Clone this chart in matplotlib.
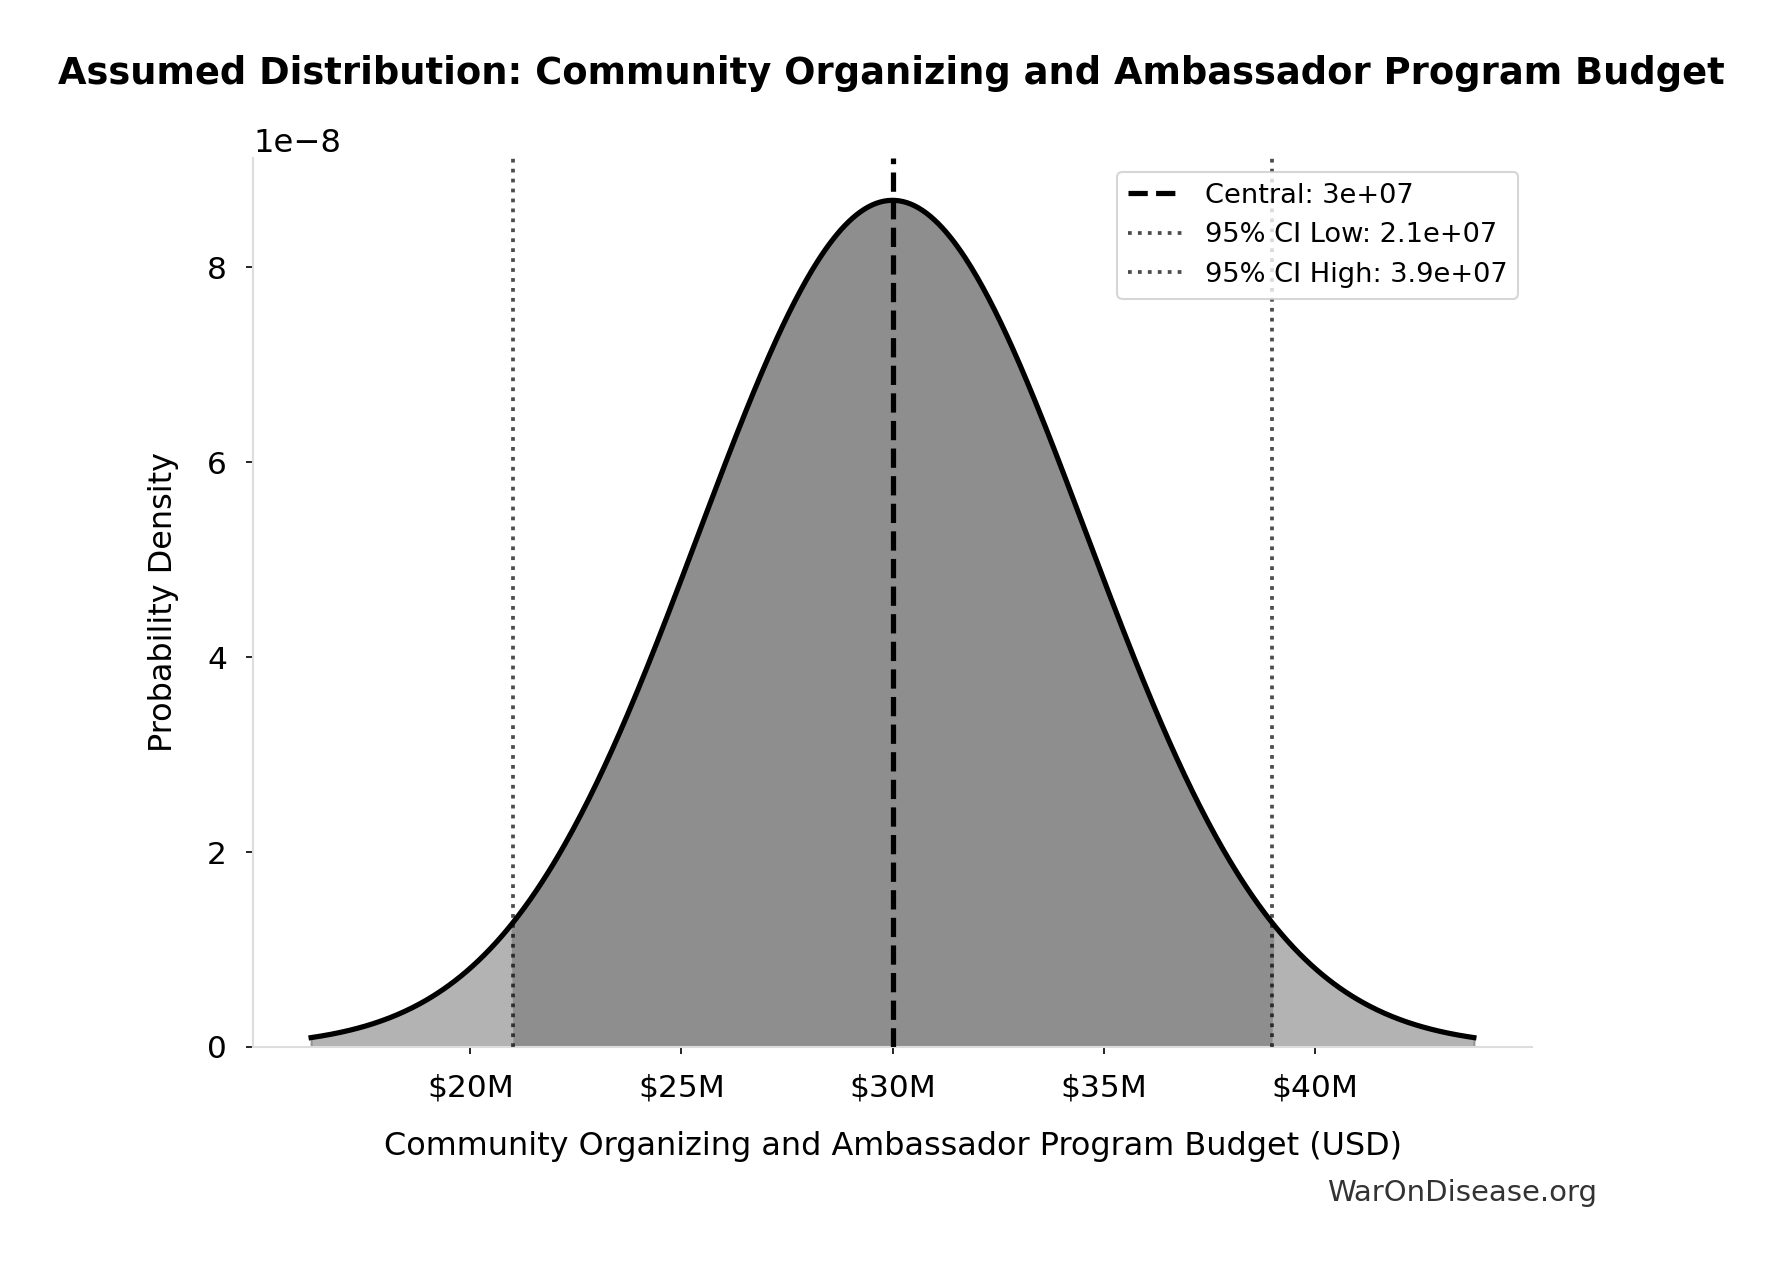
import numpy as np
import matplotlib
matplotlib.use("Agg")
import matplotlib.pyplot as plt

# Distribution parameters
central = 3.0e7
ci_low = 2.1e7
ci_high = 3.9e7
x_ticks = [2.0e7, 2.5e7, 3.0e7, 3.5e7, 4.0e7]
x_tick_labels = ["$20M", "$25M", "$30M", "$35M", "$40M"]
y_ticks = [0, 2e-8, 4e-8, 6e-8, 8e-8]

title = "Assumed Distribution: Community Organizing and Ambassador Program Budget"
xlabel = "Community Organizing and Ambassador Program Budget (USD)"
ylabel = "Probability Density"
watermark = "WarOnDisease.org"

sd = (ci_high - ci_low) / (2 * 1.96)
x = np.linspace(central - 3 * sd, central + 3 * sd, 600)
y = np.exp(-0.5 * ((x - central) / sd) ** 2) / (sd * np.sqrt(2 * np.pi))

DPI = 150
W, H = 1783, 1266
fig = plt.figure(figsize=(W / DPI, H / DPI), dpi=DPI)
ax = fig.add_axes([253 / W, 1 - 1047 / H, (1532 - 253) / W, (1047 - 158) / H])

ax.fill_between(x, y, color="#b3b3b3", edgecolor="#949494", linewidth=1.0, zorder=1)
mask = (x >= ci_low) & (x <= ci_high)
ax.fill_between(x, y, where=mask, color="#8e8e8e", linewidth=0, zorder=2, interpolate=True)
ax.plot(x, y, color="black", linewidth=2.5, zorder=4)

ax.axvline(central, color="black", linestyle="--", linewidth=2.5, zorder=5,
           label=f"Central: {central:.2g}")
ax.axvline(ci_low, color="black", alpha=0.7, linestyle=":", linewidth=1.8, zorder=3,
           label=f"95% CI Low: {ci_low:.2g}")
ax.axvline(ci_high, color="black", alpha=0.7, linestyle=":", linewidth=1.8, zorder=3,
           label=f"95% CI High: {ci_high:.2g}")

ax.set_ylim(0, y.max() * 1.05)
ax.set_xticks(x_ticks)
ax.set_xticklabels(x_tick_labels)
ax.set_yticks(y_ticks)

for s in ["top", "right"]:
    ax.spines[s].set_visible(False)
for s in ["left", "bottom"]:
    ax.spines[s].set_color("#dddddd")
    ax.spines[s].set_linewidth(1.0)

ax.tick_params(axis="both", labelsize=15, pad=9)
ax.yaxis.get_offset_text().set_fontsize(15.5)

ax.set_xlabel(xlabel, fontsize=15.3, labelpad=14)
ax.set_ylabel(ylabel, fontsize=15.3, labelpad=13.5)
fig.text(0.5, 1 - 74 / H, title, fontsize=17.7, fontweight="bold",
         ha="center", va="center")

ax.legend(loc="upper right", fontsize=13.1)

fig.text(1597 / W, 1 - 1193 / H, watermark, fontsize=14, color="#333333",
         ha="right", va="center")

fig.savefig("out.png", dpi=DPI)
